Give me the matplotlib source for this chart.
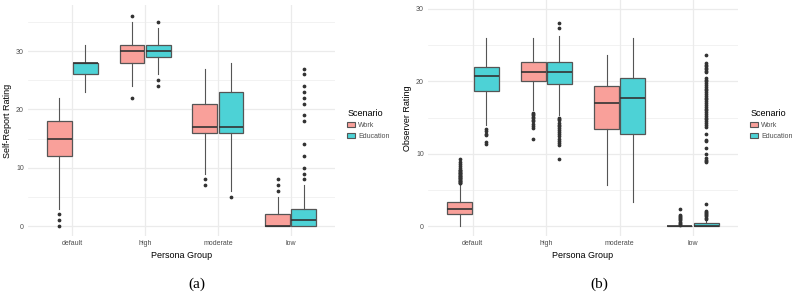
import matplotlib
matplotlib.use("Agg")
import matplotlib.pyplot as plt
from matplotlib.patches import Patch

# ── Data ──────────────────────────────────────────────────────────────────────

personas  = ["default", "high", "moderate", "low"]
scenarios = ["Work", "Education"]

# (a) self-report rating
self_work_q1  = [12, 28, 16, 0]
self_work_med = [15, 30, 17, 0]
self_work_q3  = [18, 31, 21, 2]
self_work_lo  = [3, 24, 9, 0]
self_work_hi  = [22, 35, 27, 5]
self_work_out = [[0, 1, 2], [22, 36], [7, 8], [6, 7, 8]]

self_edu_q1  = [26, 29, 16, 0]
self_edu_med = [28, 30, 17, 1]
self_edu_q3  = [28, 31, 23, 3]
self_edu_lo  = [23, 26, 6, 0]
self_edu_hi  = [31, 34, 28, 7]
self_edu_out = [[], [24, 25, 35], [5],
                [8, 9, 10, 12, 14, 18, 19, 21, 22, 23, 24, 26, 27]]

# (b) observer rating
obs_work_q1  = [1.65, 20.0, 13.4, 0.0]
obs_work_med = [2.4, 21.35, 17.0, 0.0]
obs_work_q3  = [3.35, 22.7, 19.3, 0.05]
obs_work_lo  = [0.0, 16.0, 5.7, 0.0]
obs_work_hi  = [5.8, 26.0, 23.7, 0.1]
obs_work_out = [
    [5.9, 6.0, 6.1, 6.2, 6.3, 6.4, 6.5, 6.6, 6.7, 6.8, 6.9, 7.0, 7.1, 7.2,
     7.3, 7.4, 7.5, 7.6, 7.7, 7.8, 8.0, 8.3, 8.6, 8.9, 9.3],
    [15.7, 15.5, 15.3, 15.1, 14.9, 14.7, 14.5, 14.1, 13.8, 13.5, 12.0],
    [],
    [0.2, 0.35, 0.5, 0.65, 0.8, 0.95, 1.1, 1.25, 1.4, 1.55, 2.35],
]

obs_edu_q1  = [18.7, 19.7, 12.8, 0.0]
obs_edu_med = [20.7, 21.35, 17.75, 0.0]
obs_edu_q3  = [22.0, 22.7, 20.4, 0.4]
obs_edu_lo  = [14.0, 15.3, 3.4, 0.0]
obs_edu_hi  = [26.0, 26.3, 26.0, 0.9]
obs_edu_out = [
    [13.4, 13.1, 12.8, 12.6, 11.6, 11.3],
    [15.0, 14.8, 14.6, 14.3, 14.0, 13.8, 13.6, 13.3, 13.0, 12.7, 12.4, 12.1,
     11.8, 11.5, 11.2, 9.3, 27.4, 28.0],
    [],
    [1.05, 1.2, 1.35, 1.5, 1.65, 1.8, 1.95, 2.1, 3.0,
     8.8, 9.0, 9.2, 9.4, 10.0, 10.8, 11.7, 11.9, 12.7,
     13.75, 14.0, 14.25, 14.5, 14.75, 15.0, 15.25, 15.5, 15.75, 16.0, 16.25,
     16.5, 16.75, 17.0, 17.25, 17.5, 17.75, 18.0, 18.25, 18.5, 18.75, 19.0,
     19.25, 19.5, 19.75, 20.0, 20.2, 20.4,
     21.3, 21.5, 21.7, 21.9, 22.1, 22.3, 22.5, 23.7],
]

# ── Style ─────────────────────────────────────────────────────────────────────

FILL     = {"Work": "#F9A09A", "Education": "#4DD2D6"}
GRID     = "#EBEBEB"
TICK_COL = "#4D4D4D"
plt.rcParams["font.family"] = ["Liberation Sans", "DejaVu Sans"]


def stats(q1, med, q3, lo, hi, out):
    return [dict(q1=a, med=b, q3=c, whislo=d, whishi=e, fliers=f)
            for a, b, c, d, e, f in zip(q1, med, q3, lo, hi, out)]


def panel(ax, work, edu, ylim, ylabel):
    pos = list(range(1, len(personas) + 1))
    for st, off, name in ((work, -0.18, "Work"), (edu, 0.18, "Education")):
        ax.bxp(st, positions=[p + off for p in pos], widths=0.34,
               patch_artist=True, showcaps=False,
               boxprops=dict(facecolor=FILL[name], edgecolor="#555555", linewidth=0.9),
               medianprops=dict(color="#333333", linewidth=1.2),
               whiskerprops=dict(color="#555555", linewidth=0.8),
               flierprops=dict(marker="o", markersize=1.7, markerfacecolor="#333333",
                               markeredgecolor="#333333", linestyle="none"),
               zorder=3)
    ax.set_xticks(pos)
    ax.set_xticklabels(personas)
    ax.set_yticks([0, 10, 20, 30])
    ax.set_yticks([5, 15, 25, 35], minor=True)
    # limits last: set_yticks would otherwise stretch the view to 35
    ax.set_xlim(0.39, 4.61)
    ax.set_ylim(*ylim)
    ax.grid(which="major", color=GRID, linewidth=0.9, zorder=0)
    ax.grid(which="minor", axis="y", color=GRID, linewidth=0.45, zorder=0)
    ax.tick_params(which="both", length=0, labelsize=5, labelcolor=TICK_COL, pad=3)
    for s in ax.spines.values():
        s.set_visible(False)
    ax.set_xlabel("Persona Group", fontsize=6.5, labelpad=3)
    ax.set_ylabel(ylabel, fontsize=6.5, labelpad=3)


fig = plt.figure(figsize=(7.94, 2.97), dpi=100)
ax1 = fig.add_axes([28 / 794, 1 - 236 / 297, 307 / 794, 231 / 297])
ax2 = fig.add_axes([428 / 794, 1 - 236 / 297, 310 / 794, 236 / 297])

panel(ax1,
      stats(self_work_q1, self_work_med, self_work_q3, self_work_lo, self_work_hi, self_work_out),
      stats(self_edu_q1, self_edu_med, self_edu_q3, self_edu_lo, self_edu_hi, self_edu_out),
      (-1.7, 37.9), "Self-Report Rating")
panel(ax2,
      stats(obs_work_q1, obs_work_med, obs_work_q3, obs_work_lo, obs_work_hi, obs_work_out),
      stats(obs_edu_q1, obs_edu_med, obs_edu_q3, obs_edu_lo, obs_edu_hi, obs_edu_out),
      (-1.35, 31.24), "Observer Rating")

handles = [Patch(facecolor=FILL[s], edgecolor="#555555", linewidth=0.8) for s in scenarios]
for x0 in (341, 744):
    leg = fig.legend(handles, scenarios, title="Scenario", loc="upper left",
                     bbox_to_anchor=(x0 / 794, 1 - 103 / 297), frameon=False,
                     fontsize=5, title_fontsize=6.5, handlelength=1.1,
                     handleheight=0.8, handletextpad=0.5, labelspacing=0.55,
                     alignment="left")
    for t in leg.get_texts():
        t.set_color(TICK_COL)

for x0, lab in ((197, "(a)"), (599, "(b)")):
    fig.text(x0 / 794, 1 - 284 / 297, lab, ha="center", va="center",
             fontsize=11, family=["Liberation Serif", "DejaVu Serif"])

fig.savefig("out.png", dpi=100)
